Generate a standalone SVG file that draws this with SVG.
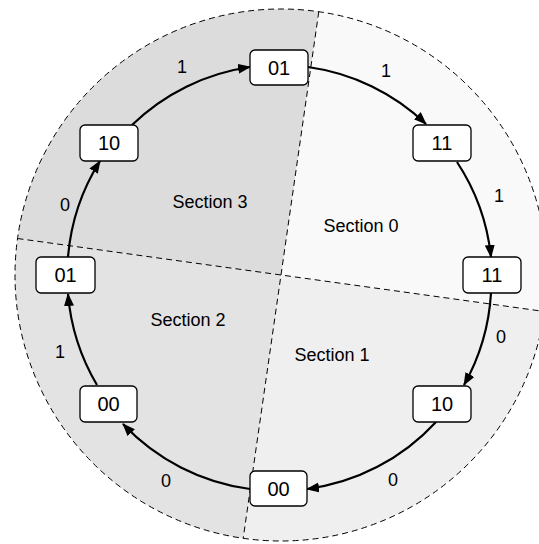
<svg xmlns="http://www.w3.org/2000/svg" width="539" height="544" viewBox="0 0 539 544">
<defs>
<style>
.node rect{fill:#fff;stroke:#000;stroke-width:1.3}
.node text{font-family:"Liberation Sans",Arial,sans-serif;font-size:20px;fill:#000;text-anchor:middle;dominant-baseline:central}
.lbl{font-family:"Liberation Sans",Arial,sans-serif;font-size:18px;fill:#000;text-anchor:middle;dominant-baseline:central}
.sec{font-family:"Liberation Sans",Arial,sans-serif;font-size:18px;fill:#000;text-anchor:middle;dominant-baseline:central}
.edge{fill:none;stroke:#000;stroke-width:2.2;marker-end:url(#arr)}
.dash{fill:none;stroke:#000;stroke-width:1;stroke-dasharray:6 4}
</style>
<marker id="arr" markerWidth="14" markerHeight="12" refX="12" refY="5" orient="auto" markerUnits="userSpaceOnUse">
<path d="M0,0 L13,5 L0,10 Z" fill="#000"/>
</marker>
</defs>
<g id="sections">
<path id="section0" d="M281,275 L318.8,11.7 A266,266 0 0 1 544.5,311.5 Z" fill="#f9f9f9"/>
<path id="section1" d="M281,275 L544.5,311.5 A266,266 0 0 1 243.2,538.3 Z" fill="#efefef"/>
<path id="section2" d="M281,275 L243.2,538.3 A266,266 0 0 1 17.5,238.5 Z" fill="#e3e3e3"/>
<path id="section3" d="M281,275 L17.5,238.5 A266,266 0 0 1 318.8,11.7 Z" fill="#dcdcdc"/>
<circle class="dash" cx="281" cy="275" r="266"/>
<line class="dash" x1="318.8" y1="11.7" x2="243.2" y2="538.3"/>
<line class="dash" x1="17.5" y1="238.5" x2="544.5" y2="311.5"/>
<text class="sec" x="210" y="202">Section 3</text>
<text class="sec" x="361" y="226">Section 0</text>
<text class="sec" x="188" y="320">Section 2</text>
<text class="sec" x="332" y="355">Section 1</text>
</g>
<g id="connectors">
<path class="edge" d="M308,67 A213,213 0 0 1 426,124"/>
<path class="edge" d="M457,162 A213,213 0 0 1 491,257"/>
<path class="edge" d="M491,293 A213,213 0 0 1 464,385"/>
<path class="edge" d="M436,422 A213,213 0 0 1 307,489"/>
<path class="edge" d="M250,489 A213,213 0 0 1 123,424"/>
<path class="edge" d="M97,385 A213,213 0 0 1 68,294"/>
<path class="edge" d="M68,257 A213,213 0 0 1 100,161"/>
<path class="edge" d="M132,125 A213,213 0 0 1 250,67"/>
<text class="lbl" x="386" y="71">1</text>
<text class="lbl" x="499" y="196">1</text>
<text class="lbl" x="501" y="337">0</text>
<text class="lbl" x="393" y="480">0</text>
<text class="lbl" x="166" y="481">0</text>
<text class="lbl" x="60" y="352">1</text>
<text class="lbl" x="65" y="205">0</text>
<text class="lbl" x="182" y="67">1</text>
</g>
<g id="n_top" class="node"><rect x="250" y="50" width="58" height="35" rx="5"/><text x="279" y="67.5">01</text></g>
<g id="n_tr" class="node"><rect x="413" y="125" width="58" height="36" rx="5"/><text x="442" y="143">11</text></g>
<g id="n_r" class="node"><rect x="463" y="257" width="58" height="36" rx="5"/><text x="492" y="275">11</text></g>
<g id="n_br" class="node"><rect x="413" y="386" width="58" height="36" rx="5"/><text x="442" y="404">10</text></g>
<g id="n_b" class="node"><rect x="250" y="471" width="57" height="35" rx="5"/><text x="278.5" y="488.5">00</text></g>
<g id="n_bl" class="node"><rect x="80" y="386" width="57" height="36" rx="5"/><text x="108.5" y="404">00</text></g>
<g id="n_l" class="node"><rect x="36" y="257" width="59" height="36" rx="5"/><text x="65.5" y="275">01</text></g>
<g id="n_tl" class="node"><rect x="80" y="125" width="58" height="36" rx="5"/><text x="109" y="143">10</text></g>
</svg>
